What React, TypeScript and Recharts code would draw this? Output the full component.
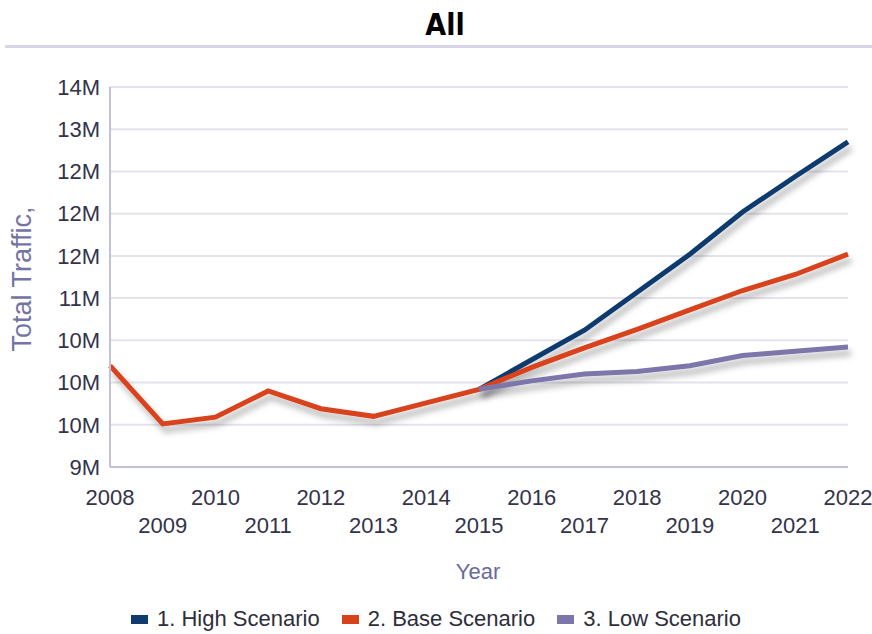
import { CartesianGrid, Legend, Line, LineChart, XAxis, YAxis } from "recharts";

const years = ['2008', '2009', '2010', '2011', '2012', '2013', '2014', '2015', '2016', '2017', '2018', '2019', '2020', '2021', '2022'];

// values in millions
const highScenario = [null, null, null, null, null, null, null, 10.42, 10.77, 11.12, 11.57, 12.02, 12.52, 12.94, 13.35];
const baseScenario = [10.70, 10.01, 10.09, 10.40, 10.19, 10.10, 10.26, 10.42, 10.68, 10.91, 11.13, 11.36, 11.59, 11.78, 12.02];
const lowScenario = [null, null, null, null, null, null, null, 10.42, 10.52, 10.60, 10.63, 10.70, 10.82, 10.87, 10.92];

const yTicks = [9.5, 10, 10.5, 11, 11.5, 12, 12.5, 13, 13.5, 14];
const yTickLabels = ['9M', '10M', '10M', '10M', '11M', '12M', '12M', '12M', '13M', '14M'];

const seriesNames = ['1. High Scenario', '2. Base Scenario', '3. Low Scenario'];
const COLORS = ['#103b6e', '#d8421a', '#7d76ab'];

const FONT = '"Liberation Sans", Arial, sans-serif';
const TICK_COLOR = '#33334a';
const LABEL_COLOR = '#7474a4';

const data = years.map((year, i) => ({
  year,
  high: highScenario[i],
  base: baseScenario[i],
  low: lowScenario[i],
}));

const YearTick = (props: any) => {
  const { x, y, payload, index } = props;
  return (
    <text x={x} y={y} dy={index % 2 ? 66 : 38} textAnchor="middle" fill={TICK_COLOR} fontSize={22} fontFamily={FONT}>
      {payload.value}
    </text>
  );
};

const LegendContent = () => (
  <div style={{ display: 'flex', justifyContent: 'center', alignItems: 'center', fontFamily: FONT, fontSize: 22, lineHeight: '24px', color: '#2e2e3a', paddingTop: 3, paddingLeft: 24 }}>
    {seriesNames.map((name, i) => (
      <div key={name} style={{ display: 'flex', alignItems: 'center', marginRight: i < 2 ? 22 : 0 }}>
        <span style={{ display: 'inline-block', width: 17, height: 9, background: COLORS[i], marginRight: 9 }} />
        <span>{name}</span>
      </div>
    ))}
  </div>
);

const App = () => {
  return (
    <div style={{ position: 'absolute', left: 0, top: 0, width: 872, height: 634, background: '#fff' }}>
      <div style={{ position: 'absolute', left: 0, width: 890, top: 7, textAlign: 'center', fontFamily: '"Liberation Sans Narrow", "DejaVu Sans Condensed", sans-serif', fontWeight: 'bold', fontSize: 30, color: '#000' }}>
        All
      </div>
      <div style={{ position: 'absolute', left: 5, top: 45, width: 867, height: 3, background: '#d6d6e4' }} />
      <div style={{ position: 'absolute', left: 22, top: 279, transform: 'translate(-50%, -50%) rotate(-90deg)', whiteSpace: 'nowrap', fontFamily: FONT, fontSize: 27, color: LABEL_COLOR }}>
        Total Traffic,
      </div>
      <div style={{ position: 'absolute', left: 478, top: 572, transform: 'translate(-50%, -50%)', whiteSpace: 'nowrap', fontFamily: FONT, fontSize: 22, color: '#6a6a9c' }}>
        Year
      </div>
      <LineChart width={872} height={634} data={data} margin={{ top: 87, right: 24, bottom: 0, left: 0 }}>
        <defs>
          <filter id="lineShadow" x="-20%" y="-20%" width="140%" height="160%">
            <feDropShadow dx="3" dy="6" stdDeviation="3" floodColor="#000" floodOpacity="0.3" />
          </filter>
        </defs>
        <CartesianGrid vertical={false} stroke="#e3e3eb" strokeWidth={2} />
        <XAxis
          dataKey="year"
          interval={0}
          height={137}
          tickLine={false}
          tickSize={0}
          tickMargin={0}
          tick={<YearTick />}
          stroke="#c2c2d6"
          strokeWidth={2}
        />
        <YAxis
          type="number"
          domain={[9.5, 14]}
          ticks={yTicks}
          tickFormatter={(v: number, i: number) => yTickLabels[i]}
          width={110}
          tickLine={false}
          tickSize={0}
          tickMargin={10}
          stroke="#c2c2d6"
          strokeWidth={2}
          tick={{ fill: TICK_COLOR, fontSize: 22, fontFamily: FONT }}
        />
        <Legend verticalAlign="bottom" height={30} content={<LegendContent />} />
        <Line dataKey="high" name={seriesNames[0]} stroke={COLORS[0]} strokeWidth={5} dot={false} isAnimationActive={false} style={{ filter: 'url(#lineShadow)' }} />
        <Line dataKey="base" name={seriesNames[1]} stroke={COLORS[1]} strokeWidth={5} dot={false} isAnimationActive={false} style={{ filter: 'url(#lineShadow)' }} />
        <Line dataKey="low" name={seriesNames[2]} stroke={COLORS[2]} strokeWidth={5} dot={false} isAnimationActive={false} style={{ filter: 'url(#lineShadow)' }} />
      </LineChart>
    </div>
  );
};

export default App;
